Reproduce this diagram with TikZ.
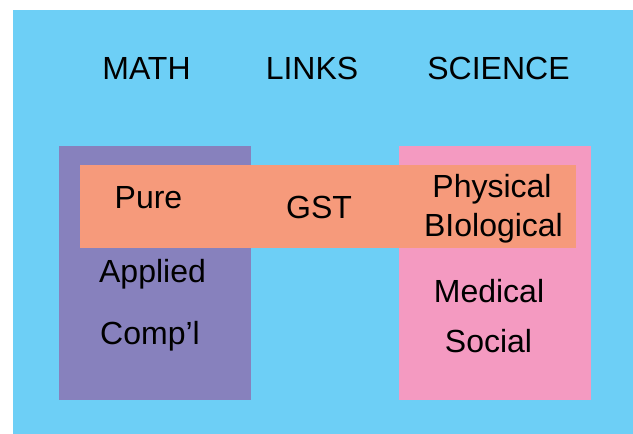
\documentclass[tikz,border=0pt]{standalone}
\usepackage{fontspec}
\setmainfont{Liberation Sans}
\definecolor{bgblue}{HTML}{6DCFF6}
\definecolor{mathpurple}{HTML}{8781BD}
\definecolor{sciencepink}{HTML}{F49AC1}
\definecolor{linkorange}{HTML}{F69A7B}
\begin{document}
\begin{tikzpicture}[x=1pt,y=-1pt,
  lbl/.style={anchor=base,inner sep=0pt,font=\fontsize{32}{38}\selectfont}]
\useasboundingbox (0,0) rectangle (633,434);
\fill[bgblue] (13,10) rectangle (633,434);
\fill[mathpurple] (59,146) rectangle (251,400);
\fill[sciencepink] (399,146) rectangle (591,400);
\fill[linkorange] (80,165) rectangle (576,248);
\node[lbl] (math) at (146.5,79) {MATH};
\node[lbl] (links) at (312,79) {LINKS};
\node[lbl] (science) at (498.5,79) {SCIENCE};
\node[lbl] (pure) at (148.5,208) {Pure};
\node[lbl] (gst) at (319,218) {GST};
\node[lbl] (physical) at (492,197) {Physical};
\node[lbl] (biological) at (493.5,236) {BIological};
\node[lbl] (applied) at (152.5,282) {Applied};
\node[lbl] (compl) at (150,344) {Comp’l};
\node[lbl] (medical) at (489,302) {Medical};
\node[lbl] (social) at (488.5,352) {Social};
\end{tikzpicture}
\end{document}
